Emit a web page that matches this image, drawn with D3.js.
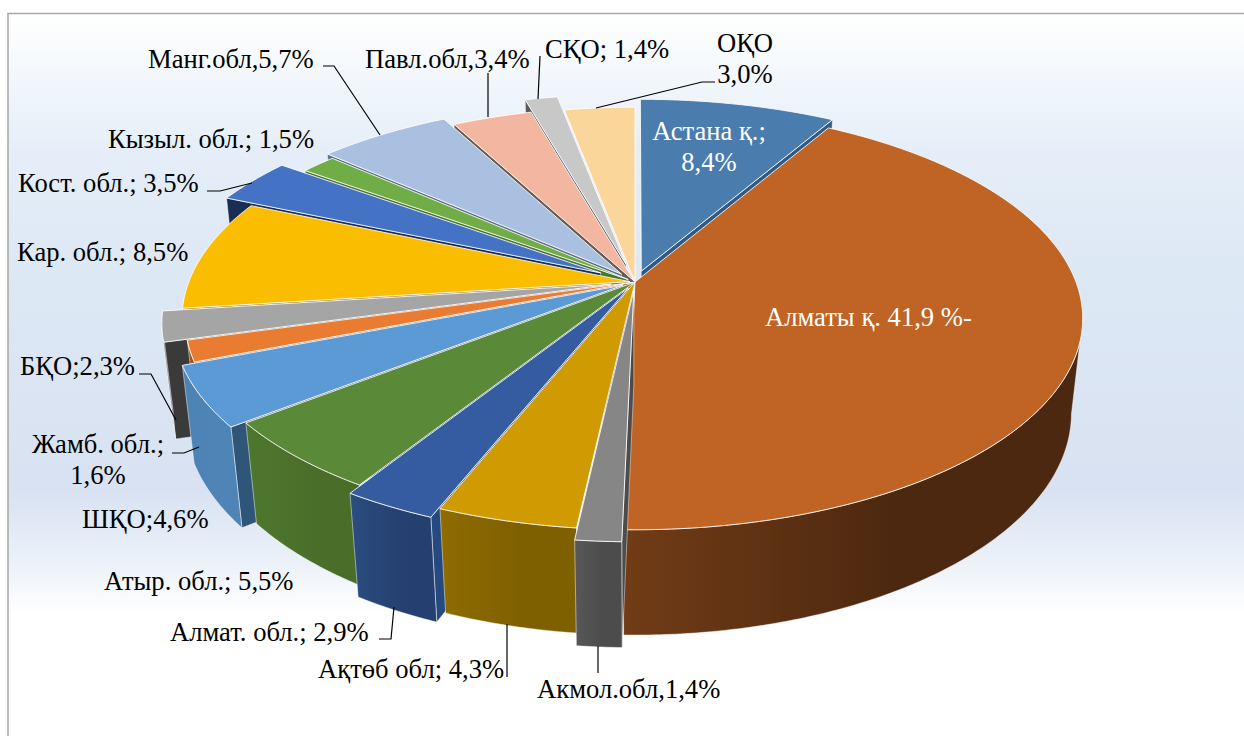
<!DOCTYPE html>
<html>
<head>
<meta charset="utf-8">
<script src="https://cdn.jsdelivr.net/npm/d3@7"></script>
<style>
    html, body { margin: 0; padding: 0; background: #fff; overflow: hidden; }
    svg { display: block; }
    text { font-family: "Liberation Serif", "DejaVu Serif", serif; font-size: 26.6px; fill: #000; }
</style>
</head>
<body>
<svg id="chart" width="1244" height="736"></svg>
<script>
// Data, in pie order, clockwise from the top
const regions = ['Астана қ.', 'Алматы қ.', 'Акмол.обл', 'Ақтөб обл', 'Алмат. обл.', 'Атыр. обл.', 'ШҚО', 'Жамб. обл.',
    'БҚО', 'Кар. обл.', 'Кост. обл.', 'Кызыл. обл.', 'Манг.обл', 'Павл.обл', 'СҚО', 'ОҚО'];
const shares = [8.4, 41.9, 1.4, 4.3, 2.9, 5.5, 4.6, 1.6, 2.3, 8.5, 3.5, 1.5, 5.7, 3.4, 1.4, 3.0];
const labels = [
    ['Астана қ.;', '8,4%'], ['Алматы қ. 41,9 %-'], ['Акмол.обл,1,4%'], ['Ақтөб обл; 4,3%'],
    ['Алмат. обл.; 2,9%'], ['Атыр. обл.; 5,5%'], ['ШҚО;4,6%'], ['Жамб. обл.;', '1,6%'],
    ['БҚО;2,3%'], ['Кар. обл.; 8,5%'], ['Кост. обл.; 3,5%'], ['Кызыл. обл.; 1,5%'],
    ['Манг.обл,5,7%'], ['Павл.обл,3,4%'], ['СҚО; 1,4%'], ['ОҚО', '3,0%']
];

// How far each slice is pulled out of the pie
const explode = [0.055, 0, 0.04, 0, 0.033, 0, 0.032, 0.005, 0.055, 0.012, 0.09, 0.02, 0.05, 0.005, 0.09, 0];

// Slice colours: top face, wall (light and dark end), radial side
const topColors = ['#4a7dae', '#c06426', '#868686', '#d09b00', '#355ca0', '#5a8a38', '#5b9ad5', '#ea7c31',
    '#a5a5a5', '#fbbd00', '#4472c4', '#70ad47', '#aac0e0', '#f3b6a0', '#c8c8c8', '#fbd69b'];
const wallLight = ['#3a638a', '#713c16', '#585858', '#8f6c00', '#2c4d80', '#4d772d', '#4c82b4', '#a5561f',
    '#424242', '#a67e00', '#1c3058', '#4a7530', '#6f86a5', '#a87d6c', '#6a6a6a', '#a88f66'];
const wallDark = ['#3a638a', '#4c2810', '#4c4c4c', '#7f6000', '#254070', '#4a6e2a', '#4f84b6', '#a5561f',
    '#424242', '#a67e00', '#1c3058', '#4a7530', '#6f86a5', '#a87d6c', '#6a6a6a', '#a88f66'];
const sideColors = ['#2f5a85', '#4c2810', '#4c4c4c', '#7f6000', '#264a80', '#4a6e2a', '#2f5578', '#a5561f',
    '#3a3a3a', '#a67e00', '#1a2d55', '#4a7530', '#5f6f88', '#6b5a50', '#5a5a5a', '#a88f66'];

// Label anchor and baseline of the first line
const labelSpots = [
    { x: 709, y: 140, anchor: 'middle', fill: '#fff' }, { x: 765, y: 326, anchor: 'start', fill: '#fff' },
    { x: 537, y: 698 }, { x: 318, y: 678 }, { x: 170, y: 641 }, { x: 104, y: 590 }, { x: 82, y: 528 },
    { x: 98, y: 453, anchor: 'middle' }, { x: 20, y: 375 }, { x: 17, y: 261 }, { x: 18, y: 192 }, { x: 108, y: 148 },
    { x: 148, y: 68 }, { x: 365, y: 68 }, { x: 545, y: 58 }, { x: 745, y: 52, anchor: 'middle' }
];

// Leader lines from label to slice
const leaders = [
    [[598, 673], [598, 646]],
    [[507, 677], [507, 624]],
    [[379, 639], [391, 639], [394, 607]],
    [[172, 453], [184, 453], [199, 447]],
    [[139, 374], [151, 374], [176, 420]],
    [[207, 191], [220, 191], [252, 183]],
    [[323, 66], [334, 66], [380, 135]],
    [[488, 73], [488, 117]],
    [[540, 56], [538, 99]],
    [[715, 82], [702, 82], [596, 108]]
];

// Perspective of the tilted disc
const view = { cx: 635, cy: 282, rx: 441, ry: 205, tilt: 0.1725, drop: 96, shrink: 0.025 };

function project(u, v, z) {
    const w = 1 + view.tilt * v + view.shrink * z;
    return [view.cx + view.rx * u / w, view.cy + (-view.ry * v + view.drop * z) / w];
}

const svg = d3.select('#chart');
const defs = svg.append('defs');

// Background panel, open on the right and at the bottom
const bg = defs.append('linearGradient').attr('id', 'panel-bg')
    .attr('gradientUnits', 'userSpaceOnUse')
    .attr('x1', 0).attr('x2', 0).attr('y1', 13).attr('y2', 736);
[[0, '#ffffff'], [0.19, '#e5eef8'], [0.36, '#dde8f5'], [0.66, '#d8e2f2'], [0.77, '#eef3fa'], [0.83, '#ffffff'], [1, '#ffffff']]
    .forEach(d => bg.append('stop').attr('offset', d[0]).attr('stop-color', d[1]));

svg.append('rect')
    .attr('x', 8).attr('y', 13.5)
    .attr('width', 1250).attr('height', 740)
    .attr('fill', 'url(#panel-bg)')
    .attr('stroke', '#a6a6a6')
    .attr('stroke-width', 1.5);

const pie = d3.pie().sort(null).value(d => d);
const arcs = pie(shares).map((a, i) => {
    const mid = (a.startAngle + a.endAngle) / 2;
    return { i, a0: a.startAngle, a1: a.endAngle, mid, du: explode[i] * Math.sin(mid), dv: explode[i] * Math.cos(mid) };
});

const path = d3.line().curve(d3.curveLinear);

function rim(s, a0, a1, z) {
    const n = Math.max(2, Math.ceil(Math.abs(a1 - a0) / 0.01));
    return d3.range(n + 1).map(k => {
        const a = a0 + (a1 - a0) * k / n;
        return project(Math.sin(a) + s.du, Math.cos(a) + s.dv, z);
    });
}

// Back of the outer wall cannot be seen
const hiddenFrom = Math.acos(-view.tilt);
const hiddenTo = 2 * Math.PI - hiddenFrom;

function drawSide(g, s, a) {
    g.append('path')
        .attr('d', path([project(s.du, s.dv, 0), project(Math.sin(a) + s.du, Math.cos(a) + s.dv, 0),
            project(Math.sin(a) + s.du, Math.cos(a) + s.dv, 1), project(s.du, s.dv, 1)]) + 'Z')
        .attr('fill', sideColors[s.i])
        .attr('stroke', '#fff').attr('stroke-opacity', 0.55).attr('stroke-width', 0.8);
}

// Draw from back to front so nearer slices cover the others
const ordered = arcs.slice().sort((p, q) => (Math.cos(q.mid) + q.dv) - (Math.cos(p.mid) + p.dv));
const slices = svg.append('g').selectAll('g').data(ordered).enter().append('g').attr('class', 'slice');

slices.each(function (s) {
    const g = d3.select(this);

    if (Math.sin(s.a0) < 0 && explode[s.i] > 0) drawSide(g, s, s.a0);
    if (Math.sin(s.a1) > 0 && explode[s.i] > 0) drawSide(g, s, s.a1);

    const from = Math.max(s.a0, hiddenFrom);
    const to = Math.min(s.a1, hiddenTo);
    if (to > from) {
        const id = `wall-${s.i}`;
        const grad = defs.append('linearGradient').attr('id', id);
        grad.append('stop').attr('offset', 0).attr('stop-color', wallLight[s.i]);
        grad.append('stop').attr('offset', 0.6).attr('stop-color', wallDark[s.i]);
        const top = rim(s, from, to, 0);
        const low = rim(s, from, to, 1).reverse();
        g.append('path')
            .attr('d', path(top.concat(low)) + 'Z')
            .attr('fill', `url(#${id})`)
            .attr('stroke', '#fff').attr('stroke-opacity', 0.6).attr('stroke-width', 0.8);
    }

    g.append('path')
        .attr('d', path([project(s.du, s.dv, 0)].concat(rim(s, s.a0, s.a1, 0))) + 'Z')
        .attr('fill', topColors[s.i])
        .attr('stroke', '#fff').attr('stroke-opacity', 0.85).attr('stroke-width', 1)
        .attr('stroke-linejoin', 'round');
});

// Leader lines
svg.append('g').selectAll('path').data(leaders).enter().append('path')
    .attr('d', d => path(d))
    .attr('fill', 'none')
    .attr('stroke', '#000')
    .attr('stroke-width', 1.2);

// Data labels
svg.append('g').selectAll('text').data(labels).enter().append('text')
    .attr('text-anchor', (d, i) => labelSpots[i].anchor || 'start')
    .style('fill', (d, i) => labelSpots[i].fill || '#000')
    .each(function (lines, i) {
        const spot = labelSpots[i];
        d3.select(this).selectAll('tspan').data(lines).enter().append('tspan')
            .attr('x', spot.x)
            .attr('y', (d, k) => spot.y + k * 31)
            .text(d => d);
    });
</script>
</body>
</html>
